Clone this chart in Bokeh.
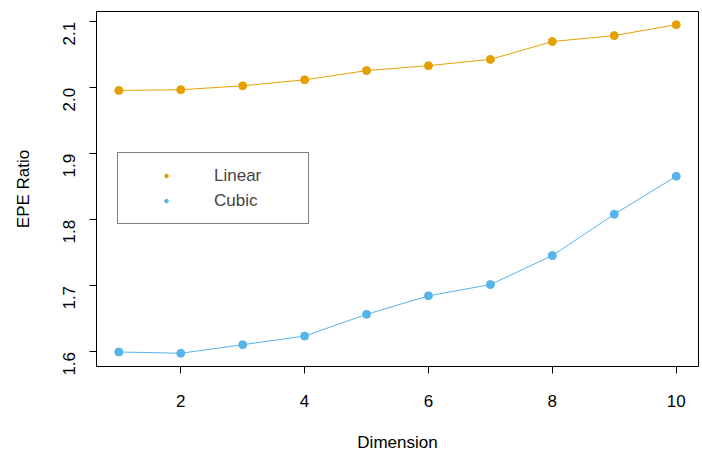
import math
from bokeh.plotting import figure
from bokeh.models import (Range1d, FixedTicker, PrintfTickFormatter, Legend, LegendItem)
from bokeh.embed import file_html
from bokeh.resources import INLINE

dimension = [1, 2, 3, 4, 5, 6, 7, 8, 9, 10]
linear_epe = [1.996, 1.997, 2.003, 2.012, 2.026, 2.0335, 2.043, 2.070, 2.079, 2.0955]
cubic_epe = [1.600, 1.598, 1.611, 1.624, 1.657, 1.685, 1.702, 1.746, 1.8085, 1.866]
x_ticks = [2, 4, 6, 8, 10]
y_ticks = [1.6, 1.7, 1.8, 1.9, 2.0, 2.1]

ORANGE = "#E69F00"
BLUE = "#56B4E9"
FONT = "Liberation Sans"
FS = "17px"

p = figure(width=702, height=460, output_backend="svg", toolbar_location=None,
           x_range=Range1d(0.64, 10.36), y_range=Range1d(1.578, 2.1155),
           min_border_left=96, min_border_right=4, min_border_top=11, min_border_bottom=94)
p.background_fill_color = "white"
p.border_fill_color = "white"
p.outline_line_color = "black"
p.outline_line_width = 1
p.xgrid.visible = False
p.ygrid.visible = False

p.line(dimension, linear_epe, line_color=ORANGE, line_width=1)
r_lin = p.scatter(dimension, linear_epe, size=8, fill_color=ORANGE, line_color=ORANGE)
p.line(dimension, cubic_epe, line_color=BLUE, line_width=1)
r_cub = p.scatter(dimension, cubic_epe, size=8, fill_color=BLUE, line_color=BLUE)

for ax in (p.xaxis[0], p.yaxis[0]):
    ax.axis_line_color = None
    ax.major_tick_in = 0
    ax.major_tick_out = 7
    ax.major_tick_line_color = "black"
    ax.minor_tick_line_color = None
    ax.major_label_text_font = FONT
    ax.major_label_text_font_size = FS
    ax.major_label_text_color = "black"
    ax.axis_label_text_font = FONT
    ax.axis_label_text_font_size = FS
    ax.axis_label_text_font_style = "normal"
    ax.axis_label_text_color = "black"

p.xaxis.ticker = FixedTicker(ticks=x_ticks)
p.xaxis.formatter = PrintfTickFormatter(format="%d")
p.xaxis.axis_label = "Dimension"
p.xaxis.major_label_standoff = 21
p.xaxis.axis_label_standoff = 23

p.yaxis.ticker = FixedTicker(ticks=y_ticks)
p.yaxis.formatter = PrintfTickFormatter(format="%.1f")
p.yaxis.axis_label = "EPE Ratio"
p.yaxis.major_label_orientation = math.pi / 2
p.yaxis.major_label_standoff = 20
p.yaxis.axis_label_standoff = 22

legend = Legend(items=[LegendItem(label="Linear", renderers=[r_lin]),
                       LegendItem(label="Cubic", renderers=[r_cub])],
                location=(21, 142), margin=0, padding=10, spacing=0,
                glyph_width=76, glyph_height=9, label_height=25, label_width=84,
                label_standoff=10,
                label_text_font=FONT, label_text_font_size=FS,
                border_line_color="black", border_line_width=1,
                background_fill_alpha=1.0, background_fill_color="white")
p.add_layout(legend)

open("out.html", "w").write(file_html(p, INLINE))
